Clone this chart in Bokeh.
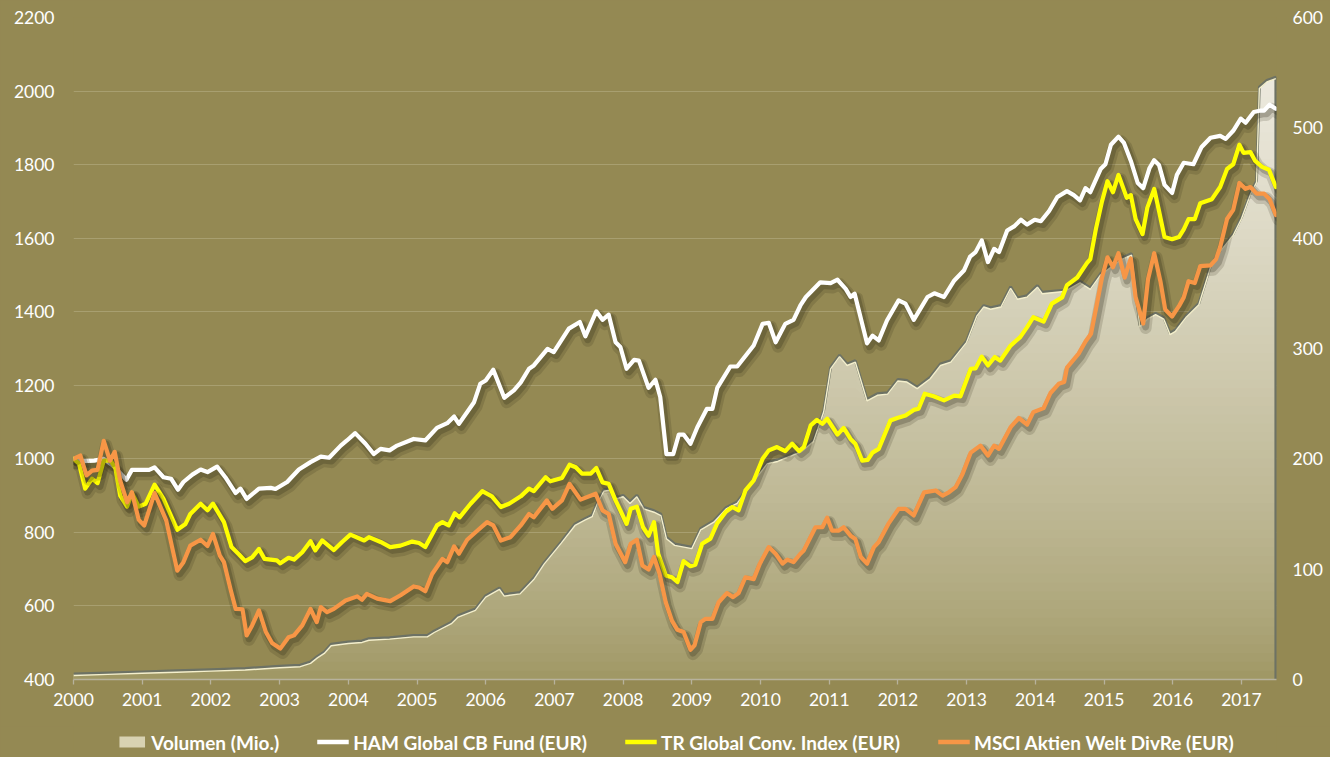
import numpy as np
from bokeh.plotting import figure
from bokeh.layouts import column
from bokeh.models import Range1d, LinearAxis, Legend, LegendItem, FixedTicker
from bokeh.embed import file_html
from bokeh.resources import INLINE

# ---------------- data ----------------
years = list(range(2000, 2018))
left_ticks = list(range(400, 2201, 200))
right_ticks = list(range(0, 601, 100))

vol_t = [2000.0, 2000.5, 2001.0, 2001.5, 2002.0, 2002.5, 2003.0, 2003.3, 2003.45, 2003.55,
         2003.65, 2003.75, 2004.0, 2004.2, 2004.3, 2004.6, 2004.95, 2005.15, 2005.25, 2005.5,
         2005.6, 2005.85, 2006.0, 2006.2, 2006.27, 2006.5, 2006.7, 2006.85, 2007.1, 2007.3,
         2007.45, 2007.55, 2007.62, 2007.72, 2007.8, 2007.9, 2008.0, 2008.1, 2008.2, 2008.3,
         2008.45, 2008.55, 2008.63, 2008.75, 2009.0, 2009.13, 2009.32, 2009.5, 2009.66, 2009.85,
         2010.1, 2010.25, 2010.4, 2010.6, 2010.77, 2010.92, 2011.02, 2011.15, 2011.26, 2011.38,
         2011.55, 2011.7, 2011.85, 2012.0, 2012.13, 2012.28, 2012.47, 2012.62, 2012.77, 2013.0,
         2013.15, 2013.25, 2013.35, 2013.5, 2013.64, 2013.74, 2013.88, 2014.03, 2014.1, 2014.42,
         2014.65, 2014.8, 2014.95, 2015.1, 2015.25, 2015.4, 2015.52, 2015.63, 2015.75, 2015.87,
         2015.96, 2016.04, 2016.2, 2016.38, 2016.55, 2016.7, 2016.88, 2017.0, 2017.13, 2017.22,
         2017.26, 2017.37, 2017.5]
vol_v = [5, 6, 7, 8, 9, 10, 12, 13, 16, 21,
         25, 32, 34, 35, 37, 38, 40, 40, 44, 52,
         58, 64, 76, 83, 77, 79, 92, 106, 125, 141,
         146, 149, 160, 172, 173, 165, 167, 161, 167, 156,
         153, 150, 129, 123, 120, 137, 144, 156, 161, 177,
         197, 199, 203, 208, 217, 244, 283, 294, 286, 289,
         254, 259, 260, 272, 271, 265, 274, 286, 289, 307,
         331, 339, 337, 339, 356, 346, 348, 357, 351, 353,
         361, 355, 368, 375, 382, 386, 321, 328, 332, 328,
         314, 317, 330, 341, 375, 390, 404, 419, 441, 452,
         537, 543, 546]

ham_t = [2000.0, 2000.13, 2000.3, 2000.44, 2000.59, 2000.77, 2000.85, 2001.1, 2001.18, 2001.31,
         2001.42, 2001.52, 2001.6, 2001.73, 2001.85, 2001.95, 2002.09, 2002.21, 2002.36, 2002.43,
         2002.52, 2002.7, 2002.87, 2002.94, 2003.11, 2003.28, 2003.45, 2003.6, 2003.72, 2003.89,
         2003.98, 2004.1, 2004.25, 2004.37, 2004.47, 2004.6, 2004.71, 2004.95, 2005.12, 2005.29,
         2005.44, 2005.54, 2005.61, 2005.83, 2005.92, 2006.0, 2006.11, 2006.27, 2006.41, 2006.51,
         2006.63, 2006.7, 2006.9, 2006.99, 2007.21, 2007.37, 2007.45, 2007.61, 2007.7, 2007.79,
         2007.89, 2007.96, 2008.05, 2008.16, 2008.23, 2008.37, 2008.47, 2008.54, 2008.63, 2008.73,
         2008.81, 2008.88, 2008.98, 2009.08, 2009.22, 2009.3, 2009.37, 2009.56, 2009.66, 2009.9,
         2010.03, 2010.12, 2010.22, 2010.36, 2010.48, 2010.58, 2010.66, 2010.87, 2011.02, 2011.12,
         2011.24, 2011.31, 2011.37, 2011.55, 2011.63, 2011.72, 2011.84, 2012.01, 2012.11, 2012.23,
         2012.43, 2012.53, 2012.67, 2012.82, 2012.96, 2013.05, 2013.13, 2013.22, 2013.31, 2013.4,
         2013.47, 2013.59, 2013.69, 2013.79, 2013.88, 2013.99, 2014.08, 2014.2, 2014.32, 2014.46,
         2014.56, 2014.65, 2014.73, 2014.8, 2014.95, 2015.02, 2015.1, 2015.21, 2015.29, 2015.39,
         2015.49, 2015.57, 2015.66, 2015.73, 2015.8, 2015.88, 2015.99, 2016.06, 2016.16, 2016.3,
         2016.42, 2016.55, 2016.69, 2016.77, 2016.88, 2016.99, 2017.06, 2017.18, 2017.28, 2017.33,
         2017.41, 2017.5]
ham_v = [1000, 994, 995, 1000, 979, 943, 970, 970, 977, 950,
         946, 916, 937, 957, 971, 964, 979, 950, 907, 919,
         891, 919, 921, 918, 937, 971, 991, 1006, 1003, 1036,
         1050, 1070, 1041, 1013, 1027, 1023, 1036, 1054, 1050, 1084,
         1097, 1115, 1095, 1154, 1204, 1213, 1242, 1166, 1186, 1208,
         1245, 1254, 1299, 1290, 1354, 1372, 1333, 1401, 1378, 1392,
         1317, 1304, 1245, 1269, 1267, 1193, 1215, 1168, 1013, 1013,
         1066, 1066, 1041, 1086, 1136, 1136, 1193, 1251, 1251, 1308,
         1367, 1370, 1317, 1367, 1378, 1417, 1440, 1480, 1478, 1487,
         1462, 1440, 1449, 1314, 1335, 1322, 1376, 1431, 1422, 1378,
         1440, 1450, 1440, 1485, 1512, 1550, 1562, 1594, 1535, 1571,
         1562, 1621, 1632, 1650, 1637, 1650, 1646, 1674, 1712, 1728,
         1717, 1703, 1736, 1725, 1788, 1801, 1854, 1876, 1859, 1810,
         1750, 1736, 1790, 1812, 1799, 1745, 1723, 1772, 1805, 1801,
         1848, 1873, 1878, 1870, 1892, 1925, 1914, 1943, 1947, 1947,
         1963, 1952]

tr_t = [2000.0, 2000.08, 2000.17, 2000.27, 2000.35, 2000.44, 2000.54, 2000.61, 2000.68, 2000.78,
        2000.85, 2000.95, 2001.05, 2001.18, 2001.31, 2001.51, 2001.63, 2001.7, 2001.85, 2001.95,
        2002.03, 2002.19, 2002.3, 2002.41, 2002.5, 2002.6, 2002.7, 2002.78, 2002.96, 2003.01,
        2003.13, 2003.21, 2003.33, 2003.45, 2003.52, 2003.62, 2003.79, 2003.91, 2004.03, 2004.23,
        2004.3, 2004.47, 2004.61, 2004.76, 2004.93, 2005.03, 2005.12, 2005.29, 2005.37, 2005.46,
        2005.55, 2005.62, 2005.78, 2005.95, 2006.09, 2006.22, 2006.34, 2006.51, 2006.63, 2006.7,
        2006.87, 2006.94, 2007.11, 2007.22, 2007.31, 2007.4, 2007.53, 2007.61, 2007.7, 2007.79,
        2007.89, 2007.96, 2008.05, 2008.11, 2008.2, 2008.29, 2008.37, 2008.45, 2008.51, 2008.62,
        2008.71, 2008.79, 2008.88, 2008.98, 2009.05, 2009.15, 2009.27, 2009.37, 2009.49, 2009.59,
        2009.68, 2009.78, 2009.9, 2010.03, 2010.12, 2010.24, 2010.36, 2010.46, 2010.56, 2010.63,
        2010.73, 2010.82, 2010.9, 2010.97, 2011.12, 2011.21, 2011.31, 2011.38, 2011.48, 2011.56,
        2011.63, 2011.72, 2011.89, 2011.99, 2012.11, 2012.23, 2012.3, 2012.39, 2012.52, 2012.67,
        2012.82, 2012.91, 2013.06, 2013.13, 2013.22, 2013.31, 2013.41, 2013.49, 2013.64, 2013.78,
        2013.88, 2013.97, 2014.12, 2014.24, 2014.39, 2014.46, 2014.61, 2014.75, 2014.8, 2014.88,
        2014.97, 2015.05, 2015.13, 2015.21, 2015.33, 2015.39, 2015.46, 2015.56, 2015.63, 2015.73,
        2015.8, 2015.88, 2015.99, 2016.09, 2016.16, 2016.23, 2016.32, 2016.4, 2016.57, 2016.69,
        2016.79, 2016.88, 2016.97, 2017.03, 2017.13, 2017.2, 2017.3, 2017.4, 2017.5]
tr_v = [1000, 987, 919, 946, 934, 995, 995, 974, 900, 870,
        907, 870, 878, 930, 891, 807, 823, 850, 878, 860,
        878, 828, 760, 740, 722, 732, 755, 728, 724, 716,
        731, 726, 746, 776, 751, 778, 752, 774, 794, 778,
        787, 774, 760, 764, 775, 771, 760, 819, 828, 819,
        852, 841, 878, 912, 898, 869, 878, 898, 919, 912,
        950, 939, 948, 984, 977, 960, 960, 975, 936, 932,
        887, 860, 823, 864, 870, 814, 791, 828, 742, 683,
        678, 665, 722, 708, 712, 769, 783, 825, 855, 869,
        860, 914, 941, 1000, 1023, 1032, 1021, 1041, 1021, 1032,
        1091, 1106, 1095, 1109, 1066, 1084, 1054, 1041, 995, 997,
        1017, 1027, 1104, 1111, 1118, 1133, 1136, 1177, 1170, 1159,
        1172, 1170, 1245, 1246, 1278, 1254, 1277, 1267, 1308, 1331,
        1358, 1385, 1373, 1422, 1439, 1472, 1493, 1532, 1543, 1624,
        1700, 1755, 1725, 1772, 1710, 1717, 1652, 1611, 1683, 1734,
        1674, 1603, 1597, 1603, 1624, 1652, 1652, 1695, 1706, 1739,
        1788, 1801, 1854, 1832, 1834, 1810, 1794, 1786, 1739]

msci_t = [2000.0, 2000.1, 2000.19, 2000.27, 2000.35, 2000.44, 2000.53, 2000.6, 2000.68, 2000.78,
          2000.85, 2000.95, 2001.03, 2001.18, 2001.35, 2001.51, 2001.6, 2001.7, 2001.85, 2001.95,
          2002.03, 2002.13, 2002.19, 2002.29, 2002.36, 2002.46, 2002.52, 2002.6, 2002.7, 2002.8,
          2002.89, 2003.01, 2003.13, 2003.21, 2003.33, 2003.45, 2003.54, 2003.6, 2003.69, 2003.79,
          2003.96, 2004.13, 2004.2, 2004.27, 2004.42, 2004.61, 2004.76, 2004.95, 2005.03, 2005.12,
          2005.22, 2005.37, 2005.44, 2005.54, 2005.61, 2005.73, 2005.88, 2006.02, 2006.11, 2006.22,
          2006.36, 2006.51, 2006.63, 2006.7, 2006.89, 2006.97, 2007.11, 2007.22, 2007.38, 2007.6,
          2007.7, 2007.79, 2007.89, 2008.03, 2008.11, 2008.2, 2008.28, 2008.37, 2008.45, 2008.53,
          2008.62, 2008.71, 2008.79, 2008.88, 2008.98, 2009.04, 2009.13, 2009.2, 2009.3, 2009.39,
          2009.51, 2009.6, 2009.68, 2009.78, 2009.9, 2009.99, 2010.12, 2010.22, 2010.32, 2010.39,
          2010.48, 2010.58, 2010.63, 2010.8, 2010.9, 2010.97, 2011.04, 2011.14, 2011.21, 2011.31,
          2011.38, 2011.46, 2011.55, 2011.65, 2011.72, 2011.86, 2012.01, 2012.11, 2012.23, 2012.38,
          2012.55, 2012.65, 2012.74, 2012.84, 2012.94, 2013.06, 2013.2, 2013.31, 2013.4, 2013.47,
          2013.64, 2013.76, 2013.88, 2013.97, 2014.12, 2014.22, 2014.34, 2014.42, 2014.46, 2014.63,
          2014.73, 2014.81, 2014.88, 2014.97, 2015.05, 2015.13, 2015.21, 2015.3, 2015.39, 2015.46,
          2015.57, 2015.64, 2015.73, 2015.82, 2015.89, 2015.99, 2016.09, 2016.16, 2016.23, 2016.32,
          2016.4, 2016.55, 2016.63, 2016.69, 2016.79, 2016.88, 2016.97, 2017.06, 2017.13, 2017.22,
          2017.33, 2017.41, 2017.5]
msci_v = [1000, 1009, 955, 968, 970, 1049, 995, 1019, 941, 882,
          909, 834, 819, 907, 832, 696, 719, 764, 780, 763,
          796, 737, 719, 642, 592, 591, 520, 547, 588, 529,
          499, 484, 515, 520, 547, 592, 556, 597, 583, 592,
          615, 626, 617, 633, 620, 613, 629, 653, 650, 640,
          687, 728, 719, 762, 742, 780, 805, 828, 819, 778,
          787, 819, 850, 841, 887, 864, 887, 932, 889, 905,
          860, 850, 769, 719, 769, 780, 710, 699, 733, 687,
          610, 560, 535, 529, 481, 493, 556, 565, 565, 610,
          635, 624, 635, 678, 673, 715, 760, 742, 715, 726,
          719, 742, 751, 814, 814, 840, 805, 805, 814, 791,
          782, 733, 715, 760, 774, 823, 864, 864, 846, 909,
          914, 900, 909, 923, 959, 1017, 1036, 1009, 1036, 1027,
          1086, 1111, 1093, 1127, 1138, 1179, 1204, 1209, 1248, 1286,
          1319, 1340, 1406, 1493, 1548, 1521, 1559, 1493, 1545, 1439,
          1368, 1488, 1559, 1483, 1406, 1387, 1415, 1439, 1483, 1478,
          1524, 1526, 1543, 1576, 1652, 1677, 1750, 1734, 1739, 1721,
          1721, 1706, 1663]

labels = ["Volumen (Mio.)", "HAM Global CB Fund (EUR)",
          "TR Global Conv. Index (EUR)", "MSCI Aktien Welt DivRe (EUR)"]

# ---------------- style ----------------
BG = "#948953"
FONT = "Lato"
WHITE = "#ffffff"
YELLOW = "#ffff00"
ORANGE = "#f79646"
AREA_SWATCH = "#d8d2b2"

p = figure(width=1330, height=726, output_backend="svg", toolbar_location=None,
           x_range=Range1d(2000, 2017.51), y_range=Range1d(400, 2200),
           min_border_left=73, min_border_right=54, min_border_top=17, min_border_bottom=47,
           background_fill_color=BG, border_fill_color=BG, outline_line_color=None)
p.extra_y_ranges = {"vol": Range1d(0, 600)}

# grid
p.xgrid.grid_line_color = None
p.ygrid.ticker = FixedTicker(ticks=left_ticks)
p.ygrid.grid_line_color = "#a89f70"
p.ygrid.grid_line_width = 1

# volume area with vertical gradient
vt = np.array(vol_t)
vv = np.array(vol_v, dtype=float)
p.varea(x=vt, y1=0, y2=vv, fill_color=AREA_SWATCH, y_range_name="vol")

c0 = np.array([158, 150, 98])
c1 = np.array([238, 235, 224])
step = 8
for lo in range(0, 560, step):
    t = min(1.0, (lo + step / 2) / 560.0) ** 0.72
    c = (c0 + (c1 - c0) * t).astype(int)
    col = "#%02x%02x%02x" % tuple(c)
    p.varea(x=vt, y1=np.minimum(vv, lo), y2=np.minimum(vv, lo + step + 1.5),
            fill_color=col, y_range_name="vol")

ox = np.append(vt, vt[-1])
oy = np.append(vv, 0)
p.line(ox, oy, line_color="#6d7264", line_width=2.8, y_range_name="vol")
p.line(vt, vv - 1.4, line_color="#f4efcc", line_width=1.4, y_range_name="vol")

# lines with soft shadows
def shadowed(t, v, color):
    t = np.array(t)
    v = np.array(v, dtype=float)
    p.line(t + 0.035, v - 12, line_color="#2a2614", line_alpha=0.16, line_width=12,
           line_join="round", line_cap="round")
    p.line(t + 0.035, v - 9, line_color="#2a2614", line_alpha=0.24, line_width=7,
           line_join="round", line_cap="round")
    p.line(t, v, line_color=color, line_width=4.2, line_join="round", line_cap="round")

shadowed(ham_t, ham_v, WHITE)
shadowed(tr_t, tr_v, YELLOW)
shadowed(msci_t, msci_v, ORANGE)

# axes
FS = "17.5px"
xa = p.xaxis[0]
xa.ticker = FixedTicker(ticks=years)
xa.axis_line_color = "#b7b29c"
xa.axis_line_width = 1.6
xa.major_tick_line_color = "#b7b29c"
xa.major_tick_line_width = 1.3
xa.major_tick_out = 5
xa.major_tick_in = 0
xa.minor_tick_line_color = None
xa.major_label_standoff = 8
xa.major_label_text_color = WHITE
xa.major_label_text_font = FONT
xa.major_label_text_font_size = FS

ya = p.yaxis[0]
ya.ticker = FixedTicker(ticks=left_ticks)
ya.axis_line_color = None
ya.major_tick_line_color = None
ya.minor_tick_line_color = None
ya.major_tick_out = 0
ya.major_tick_in = 0
ya.major_label_standoff = 19
ya.major_label_text_color = WHITE
ya.major_label_text_font = FONT
ya.major_label_text_font_size = FS

ra = LinearAxis(y_range_name="vol", ticker=FixedTicker(ticks=right_ticks))
ra.axis_line_color = None
ra.major_tick_line_color = None
ra.minor_tick_line_color = None
ra.major_tick_out = 0
ra.major_tick_in = 0
ra.major_label_standoff = 16
ra.major_label_text_color = WHITE
ra.major_label_text_font = FONT
ra.major_label_text_font_size = FS
p.add_layout(ra, "right")

# legend strip (separate figure below the chart); swatch glyphs sit outside its ranges
q = figure(width=1330, height=31, output_backend="svg", toolbar_location=None,
           x_range=Range1d(0, 1), y_range=Range1d(0, 1),
           x_axis_location=None, y_axis_location=None, min_border=0,
           background_fill_color=BG, border_fill_color=BG, outline_line_color=None)
q.xgrid.visible = False
q.ygrid.visible = False
hid_x = [-9, -8]
hid_y = [-9, -8]
g0 = q.varea(x=hid_x, y1=hid_y, y2=hid_y, fill_color=AREA_SWATCH)
g1 = q.line(x=hid_x, y=hid_y, line_color=WHITE, line_width=4.5)
g2 = q.line(x=hid_x, y=hid_y, line_color=YELLOW, line_width=4.5)
g3 = q.line(x=hid_x, y=hid_y, line_color=ORANGE, line_width=4.5)
legend = Legend(items=[LegendItem(label=labels[0], renderers=[g0]),
                       LegendItem(label=labels[1], renderers=[g1]),
                       LegendItem(label=labels[2], renderers=[g2]),
                       LegendItem(label=labels[3], renderers=[g3])],
                orientation="horizontal", location="center",
                background_fill_alpha=0, border_line_color=None,
                label_text_color=WHITE, label_text_font=FONT, label_text_font_style="bold",
                label_text_font_size="19px", glyph_width=32, glyph_height=14,
                spacing=38, label_standoff=4, padding=0, margin=0)
q.add_layout(legend, "center")

layout = column(p, q, spacing=0, styles={"background-color": BG})
open("out.html", "w").write(file_html(layout, INLINE))
